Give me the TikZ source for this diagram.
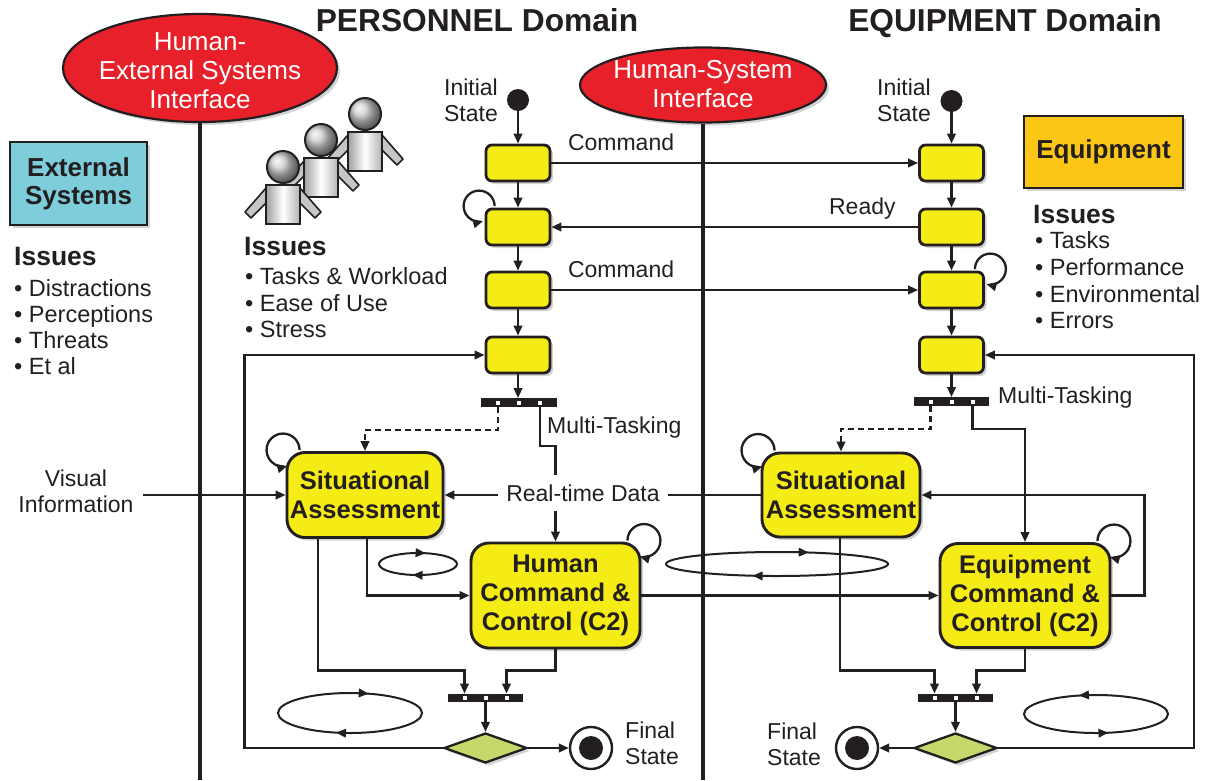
\documentclass[tikz,border=0pt]{standalone}
\usepackage{fontspec}
\setmainfont{Liberation Sans}
\usetikzlibrary{arrows.meta, positioning, shapes.geometric, shadows, decorations.markings}

\definecolor{ink}{RGB}{35,31,32}
\definecolor{hsired}{RGB}{232,32,42}
\definecolor{stateyellow}{RGB}{245,236,22}
\definecolor{extcyan}{RGB}{125,205,218}
\definecolor{equiporange}{RGB}{252,198,22}
\definecolor{choicegreen}{RGB}{198,216,108}

\tikzset{
	>={Triangle[length = 10pt, width = 8.5pt]},
	softshadow/.style = {drop shadow = {shadow xshift = 3pt, shadow yshift = -3pt, opacity = 0.35}},
	flow/.style = {draw = ink, color = ink, line width = 2.3pt},
	divider/.style = {draw = ink, line width = 4.5pt},
	lbl/.style = {text = ink, font = \fontsize{23}{26}\selectfont, inner sep = 2pt},
	item/.style = {text = ink, font = \fontsize{23.5}{27}\selectfont, inner sep = 0pt, anchor = base west},
	heading/.style = {text = ink, font = \fontsize{26.5}{30}\selectfont\bfseries, inner sep = 0pt, anchor = base west},
	domaintitle/.style = {text = ink, font = \fontsize{31.7}{36}\selectfont\bfseries, inner sep = 0pt, anchor = base},
	iface/.style = {ellipse, draw = ink, line width = 2.2pt, fill = hsired, softshadow},
	ifacetext/.style = {text = white, font = \fontsize{26}{29}\selectfont, align = center, inner sep = 0pt},
	sysbox/.style = {draw = ink, line width = 2.4pt, text = ink, font = \fontsize{26}{28}\selectfont\bfseries, align = center, softshadow},
	smallstate/.style = {draw = ink, line width = 2.8pt, fill = stateyellow, rounded corners = 6pt, minimum width = 64pt, minimum height = 36pt, softshadow},
	activity/.style = {draw = ink, line width = 2.9pt, fill = stateyellow, rounded corners = 18pt, text = ink, align = center, font = \fontsize{25.5}{29}\selectfont\bfseries, inner sep = 0pt, softshadow},
	bar/.style = {fill = ink, minimum width = 75pt, minimum height = 8.5pt, inner sep = 0pt},
	choice/.style = {diamond, aspect = 2.8, draw = ink, line width = 2.3pt, fill = choicegreen, minimum width = 83pt, minimum height = 30pt, inner sep = 0pt, softshadow},
	startdot/.style = {circle, fill = ink, minimum size = 22pt, inner sep = 0pt},
	enddot/.style = {circle, draw = ink, line width = 2.4pt, fill = white, minimum size = 42pt, inner sep = 0pt,
		path picture = {\fill[ink] (path picture bounding box.center) circle [radius = 12pt];}},
	loopcw/.style 2 args = {draw = ink, color = ink, line width = 2pt, postaction = {decorate},
		decoration = {markings, mark = at position #1 with {\arrowreversed{>}}, mark = at position #2 with {\arrowreversed{>}}}},
	loopccw/.style 2 args = {draw = ink, color = ink, line width = 2pt, postaction = {decorate},
		decoration = {markings, mark = at position #1 with {\arrow{>}}, mark = at position #2 with {\arrow{>}}}}
}

% one crew figure, head centre at (#1, #2)
\newcommand{\crewmember}[2]{%
	\filldraw[fill = gray!45, draw = ink, line width = 1.6pt, line join = round] (#1 - 17, #2 - 21) -- (#1 - 38, #2 - 45) -- (#1 - 32, #2 - 51) -- (#1 - 17, #2 - 36) -- cycle;
	\filldraw[fill = gray!45, draw = ink, line width = 1.6pt, line join = round] (#1 + 17, #2 - 21) -- (#1 + 38, #2 - 45) -- (#1 + 32, #2 - 51) -- (#1 + 17, #2 - 36) -- cycle;
	\draw[draw = ink, line width = 2pt, left color = gray!75, right color = gray!60, middle color = white] (#1 - 17, #2 - 18) rectangle (#1 + 17, #2 - 57);
	\draw[draw = ink, line width = 2pt, ball color = gray!40] (#1, #2) circle [radius = 16pt];
}

\begin{document}
\begin{tikzpicture}[x = 1pt, y = 1pt]
	%	canvas
	\useasboundingbox (0, 0) rectangle (1207, -780);
	
	\def\xp{518}
	\def\xe{951.5}
	
	%	domain titles
	\node[domaintitle] (pdom) at (477, -31.5) {PERSONNEL Domain};
	\node[domaintitle] (edom) at (1005, -31.5) {EQUIPMENT Domain};
	
	%	interfaces + dividers
	\node[iface, minimum width = 274pt, minimum height = 108pt] (hesi) at (200, -68) {};
	\node[ifacetext] (hesitext) at (200, -71) {Human-\\External Systems\\Interface};
	\node[iface, minimum width = 246pt, minimum height = 75pt] (hsi) at (703, -85) {};
	\node[ifacetext] (hsitext) at (703, -84.5) {Human-System\\Interface};
	\coordinate (hesifoot) at (200, -780);
	\coordinate (hsifoot) at (703, -780);
	\draw[divider] (hesi.south) -- (hesifoot);
	\draw[divider] (hsi.south) -- (hsifoot);
	
	%	external systems
	\node[sysbox, fill = extcyan, minimum width = 137pt, minimum height = 83pt] (ext) at (78.5, -183.5) {External\\Systems};
	\node[heading] (exthead) at (14, -265) {Issues};
	\foreach \txt [count = \i] in {Distractions, Perceptions, Threats, Et al}
		\node[item] (extissue\i) at (14, {-296 - 26.3 * (\i - 1)}) {• \txt};
	
	%	crew
	\crewmember{365}{-114}
	\crewmember{321}{-140}
	\crewmember{283}{-167}
	\node[heading] (crewhead) at (244, -255) {Issues};
	\foreach \txt [count = \i] in {Tasks \& Workload, Ease of Use, Stress}
		\node[item] (crewissue\i) at (245, {-284.5 - 26.5 * (\i - 1)}) {• \txt};
	
	%	equipment
	\node[sysbox, fill = equiporange, minimum width = 159pt, minimum height = 72pt] (equip) at (1103.5, -152) {Equipment};
	\node[heading] (equiphead) at (1033, -223) {Issues};
	\foreach \txt [count = \i] in {Tasks, Performance, Environmental, Errors}
		\node[item] (equipissue\i) at (1035, {-248.5 - 26.8 * (\i - 1)}) {• \txt};
	
	%	state chains
	\node[startdot] (pstart) at (\xp, -100) {};
	\node[lbl, align = center] (pstartlbl) at (471, -100.5) {Initial\\State};
	\node[startdot] (estart) at (\xe, -101) {};
	\node[lbl, align = center] (estartlbl) at (904, -100) {Initial\\State};
	\foreach \y [count = \i] in {163, 227, 290, 355} {
		\node[smallstate] (ps\i) at (\xp, -\y) {};
		\node[smallstate] (es\i) at (\xe, -\y) {};
	}
	\draw[flow, ->] (pstart) -- (ps1);
	\draw[flow, ->] (estart) -- (es1);
	\foreach \i/\j in {1/2, 2/3, 3/4} {
		\draw[flow, ->] (ps\i) -- (ps\j);
		\draw[flow, ->] (es\i) -- (es\j);
	}
	
	%	messages
	\draw[flow, ->] (ps1) -- node[lbl, pos = 0.19, above = 9pt] (cmd1) {Command} (es1);
	\draw[flow, ->] (es2) -- node[lbl, pos = 0.152, above = 5pt] (ready) {Ready} (ps2);
	\draw[flow, ->] (ps3) -- node[lbl, pos = 0.19, above = 9pt] (cmd2) {Command} (es3);
	
	%	self loops
	\draw[flow, ->] ([shift = {(10, 1.5)}]ps2.north west) arc [start angle = 0, end angle = 285, radius = 15.5pt];
	\draw[flow, ->] ([shift = {(-10, 1.5)}]es3.north east) arc [start angle = 180, end angle = -105, radius = 15.5pt];
	
	%	activities
	\node[activity, minimum width = 156pt, minimum height = 85pt] (psa) at (365, -495) {Situational\\Assessment};
	\node[activity, minimum width = 169pt, minimum height = 105pt] (pc2) at (555.5, -595.5) {Human\\Command \&\\Control (C2)};
	\node[activity, minimum width = 158pt, minimum height = 84pt] (esa) at (841, -495) {Situational\\Assessment};
	\node[activity, minimum width = 170pt, minimum height = 104pt] (ec2) at (1025, -595.5) {Equipment\\Command \&\\Control (C2)};
	
	%	bars, choices, final states
	\node[bar, minimum width = 76pt] (pfork) at (\xp + 1, -402.5) {};
	\node[bar] (efork) at (\xe, -401.5) {};
	\node[bar] (pjoin) at (485.5, -698) {};
	\node[bar] (ejoin) at (955.5, -698) {};
	\foreach \b in {pfork, efork, pjoin, ejoin}
		\foreach \dx in {-21, 0, 21}
			\fill[white] ([xshift = \dx]\b.center) ++(-2, -2) rectangle ++(4, 4);
	\node[choice] (pdec) at (485.5, -748) {};
	\node[choice] (edec) at (955.5, -748) {};
	\node[enddot] (pend) at (591, -748) {};
	\node[enddot] (eend) at (857, -748) {};
	\node[lbl, align = left, anchor = west] (pendlbl) at (623, -743.5) {Final\\State};
	\node[lbl, align = left, anchor = west] (eendlbl) at (765, -744) {Final\\State};
	
	%	personnel flow
	\draw[flow, ->] (ps4) -- (ps4 |- pfork.north);
	\draw[flow, dash pattern = on 6pt off 4pt, ->] ([xshift = -21]pfork.south) -- ++(0, -23) -| (psa.north);
	\draw[flow, ->] ([xshift = 21]pfork.south) -- ++(0, -39) -| (pc2.north);
	\draw[flow, ->] (esa.west) -- (psa.east);
	\node[lbl, fill = white, inner xsep = 8pt, inner ysep = 10pt] (rtd) at (583, -493) {Real-time Data};
	\node[lbl, anchor = base west] (mtp) at (545, -433) {Multi-Tasking};
	\node[lbl, align = center, inner xsep = 9pt] (vis) at (76, -491.5) {Visual\\Information};
	\draw[flow, ->] (vis.east |- psa.west) -- (psa.west);
	\draw[flow, ->] ([shift = {(14, 1)}]psa.north west) arc [start angle = 0, end angle = 285, radius = 16.5pt];
	\draw[flow, ->] ([xshift = -47]psa.south) |- ([shift = {(-21, 23)}]pjoin.north) -- ([xshift = -21]pjoin.north);
	\draw[flow, ->] ([xshift = 2]psa.south) |- (pc2.west);
	\draw[flow, ->] (pc2.south) |- ([shift = {(21, 23)}]pjoin.north) -- ([xshift = 21]pjoin.north);
	\draw[flow, ->] ([shift = {(-14, 1)}]pc2.north east) arc [start angle = 180, end angle = -105, radius = 16.5pt];
	\draw[flow, ->] (pc2.east) -- (ec2.west);
	\draw[flow, ->] (pjoin) -- (pdec);
	\draw[flow, ->] (pdec) -- (pend);
	\draw[flow, ->] (pdec.west) -| ([xshift = -240]ps4.west) -- (ps4.west);
	
	%	equipment flow
	\draw[flow, ->] (es4) -- (es4 |- efork.north);
	\draw[flow, dash pattern = on 6pt off 4pt, ->] ([xshift = -21]efork.south) -- ++(0, -23) -| (esa.north);
	\draw[flow, ->] ([xshift = 21]efork.south) -- ++(0, -23) -| (ec2.north);
	\node[lbl, anchor = base west] (mte) at (996, -403) {Multi-Tasking};
	\draw[flow, ->] ([shift = {(14, 1)}]esa.north west) arc [start angle = 0, end angle = 285, radius = 16.5pt];
	\draw[flow, ->] ([shift = {(-14, 1)}]ec2.north east) arc [start angle = 180, end angle = -105, radius = 16.5pt];
	\draw[flow, ->] (ec2.east) -- ++(33, 0) |- (esa.east);
	\draw[flow, ->] ([xshift = -1]esa.south) |- ([shift = {(-21, 23)}]ejoin.north) -- ([xshift = -21]ejoin.north);
	\draw[flow, ->] (ec2.south) |- ([shift = {(21, 23)}]ejoin.north) -- ([xshift = 21]ejoin.north);
	\draw[flow, ->] (ejoin) -- (edec);
	\draw[flow, ->] (edec) -- (eend);
	\draw[flow, ->] (edec.east) -| ([xshift = 209]es4.east) -- (es4.east);
	
	%	cycles
	\draw[loopcw = {0.205}{0.718}] (418, -564) ellipse [x radius = 39pt, y radius = 11pt];
	\draw[loopcw = {0.19}{0.705}] (350, -713) ellipse [x radius = 72pt, y radius = 20pt];
	\draw[loopcw = {0.18}{0.696}] (777, -564) ellipse [x radius = 111pt, y radius = 12pt];
	\draw[loopccw = {0.305}{0.79}] (1096, -714) ellipse [x radius = 72pt, y radius = 19pt];
\end{tikzpicture}
\end{document}
